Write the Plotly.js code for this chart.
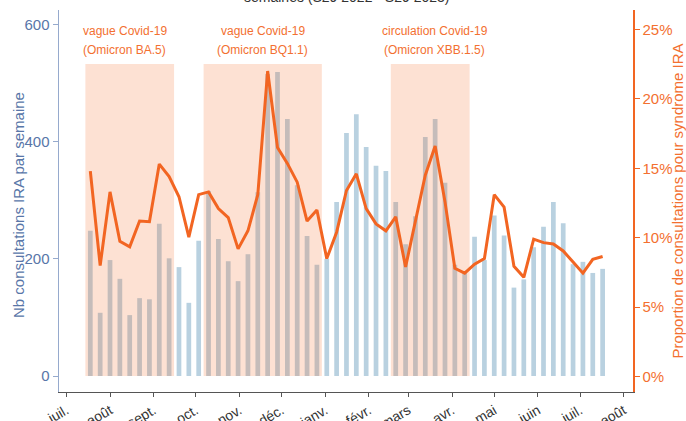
<!DOCTYPE html>
<html>
<head>
<meta charset="utf-8">
<script src="https://cdn.plot.ly/plotly-3.0.1.min.js"></script>
<style>html,body{margin:0;padding:0;background:#fff;}#chart{width:686px;height:421px;}</style>
</head>
<body>
<div id="chart"></div>
<script>
// Weekly dates (Mondays), S29 2022 -> S29 2023
const weeks = [
  '2022-07-18','2022-07-25','2022-08-01','2022-08-08','2022-08-15','2022-08-22','2022-08-29',
  '2022-09-05','2022-09-12','2022-09-19','2022-09-26','2022-10-03','2022-10-10','2022-10-17',
  '2022-10-24','2022-10-31','2022-11-07','2022-11-14','2022-11-21','2022-11-28','2022-12-05',
  '2022-12-12','2022-12-19','2022-12-26','2023-01-02','2023-01-09','2023-01-16','2023-01-23',
  '2023-01-30','2023-02-06','2023-02-13','2023-02-20','2023-02-27','2023-03-06','2023-03-13',
  '2023-03-20','2023-03-27','2023-04-03','2023-04-10','2023-04-17','2023-04-24','2023-05-01',
  '2023-05-08','2023-05-15','2023-05-22','2023-05-29','2023-06-05','2023-06-12','2023-06-19',
  '2023-06-26','2023-07-03','2023-07-10','2023-07-17'
];
// Nb consultations IRA par semaine
const consultations = [
  248,108,198,166,104,133,131,260,201,186,125,231,316,234,196,162,208,314,516,519,439,
  326,239,190,200,297,415,447,391,359,350,297,225,273,408,439,330,190,176,238,198,274,
  240,151,165,220,255,297,261,191,195,176,183
];
// Proportion de consultations pour syndrome IRA (%)
const proportion = [
  14.8,8.0,13.3,9.75,9.35,11.2,11.15,15.3,14.4,12.95,10.05,13.1,13.3,12.1,11.45,9.2,10.5,
  13.1,22.0,16.5,15.35,14.0,11.2,12.0,8.5,10.4,13.4,14.6,12.1,11.0,10.5,11.5,7.9,11.15,
  14.5,16.6,12.6,7.8,7.45,8.1,8.5,13.1,12.2,7.95,7.15,9.9,9.65,9.55,9.05,8.25,7.45,8.45,8.65
];
// Month ticks
const monthTicks = ['2022-07-01','2022-08-01','2022-09-01','2022-10-01','2022-11-01','2022-12-01',
  '2023-01-01','2023-02-01','2023-03-01','2023-04-01','2023-05-01','2023-06-01','2023-07-01','2023-08-01'];
const monthLabels = ['juil.','août','sept.','oct.','nov.','déc.','janv.','févr.','mars','avr.','mai','juin','juil.','août'];
// Covid-19 periods (first and last week)
const periodFirstWeek = ['2022-07-18','2022-10-10','2023-02-20'];
const periodLastWeek  = ['2022-09-12','2022-12-26','2023-04-10'];
const periodLine1 = ['vague Covid-19','vague Covid-19','circulation Covid-19'];
const periodLine2 = ['(Omicron BA.5)','(Omicron BQ1.1)','(Omicron XBB.1.5)'];
const periodLabelDate = ['2022-08-11 12:00','2022-11-17 16:00','2023-03-19 18:00'];

const DAY = 86400000;
function shift(d, days){ return new Date(new Date(d+'T00:00:00Z').getTime()+days*DAY).toISOString().slice(0,19).replace('T',' '); }

const ORANGE = 'rgb(242,101,34)';
const ORANGE_TXT = 'rgb(243,112,48)';
const BLUE_TXT = 'rgb(88,118,168)';
const FONT = 'Liberation Sans, Arial, sans-serif';
const W = 686, H = 421, L = 59, R = 53, T = 10, B = 29, PH = H - T - B, PW = W - L - R;
function py(pix){ return (H - B - pix) / PH; } // pixel row -> paper y
function px(pix){ return (pix - L) / PW; }     // pixel col -> paper x

const shapes = periodFirstWeek.map((s,i)=>({
  type:'rect', xref:'x', yref:'y', x0:shift(s,-3.5), x1:shift(periodLastWeek[i],3.5),
  y0:0, y1:533, fillcolor:'rgb(245,105,35)', opacity:0.2, line:{width:0}, layer:'above'
}));

const annotations = [];
periodLine1.forEach((t,i)=>{
  annotations.push({xref:'x', yref:'paper', x:periodLabelDate[i], y:py(31), text:t, showarrow:false,
    xanchor:'center', yanchor:'middle', font:{family:FONT, size:12, color:ORANGE_TXT}});
  annotations.push({xref:'x', yref:'paper', x:periodLabelDate[i], y:py(50), text:periodLine2[i], showarrow:false,
    xanchor:'center', yanchor:'middle', font:{family:FONT, size:12, color:ORANGE_TXT}});
});
annotations.push({xref:'paper', yref:'paper', x:0.5, y:py(7), text:'semaines (S29 2022 - S29 2023)',
  showarrow:false, xanchor:'center', yanchor:'bottom', font:{family:FONT, size:14, color:'#333'}});
// left axis title
annotations.push({xref:'paper', yref:'paper', x:px(18), y:py(205), text:'Nb consultations IRA par semaine',
  textangle:-90, showarrow:false, xanchor:'center', yanchor:'middle', font:{family:FONT, size:15, color:BLUE_TXT}});

const traces = [
  {type:'bar', x:weeks, y:consultations, marker:{color:'rgb(185,209,224)'}, width:3.35*DAY, yaxis:'y', hoverinfo:'x+y'},
  {type:'scatter', mode:'lines', x:weeks, y:proportion, yaxis:'y2', line:{color:ORANGE, width:3}}
];

const layout = {
  width:W, height:H,
  margin:{l:L, r:R, t:T, b:B, pad:0},
  paper_bgcolor:'#fff', plot_bgcolor:'#fff',
  showlegend:false,
  font:{family:FONT},
  xaxis:{type:'date', range:['2022-06-25 18:00','2023-08-07 14:00'], tickmode:'array', tickvals:monthTicks, ticktext:monthLabels,
    tickangle:-30, ticks:'outside', ticklen:4, tickcolor:'#555', showline:true, linecolor:'#555', linewidth:1,
    showgrid:false, zeroline:false, automargin:false, tickfont:{family:FONT, size:14, color:'#333'}},
  yaxis:{range:[-27.3,625.1], tick0:0, dtick:200, showline:true, linecolor:'rgb(150,170,205)', linewidth:1.5,
    ticks:'outside', ticklen:5, tickcolor:'rgb(150,170,205)', showgrid:false, zeroline:false, automargin:false,
    tickfont:{family:FONT, size:15, color:BLUE_TXT}},
  yaxis2:{overlaying:'y', side:'right', range:[-1.10,26.39], tick0:0, dtick:5, ticksuffix:'%', showline:true,
    linecolor:ORANGE, linewidth:1.5, ticks:'outside', ticklen:5, tickcolor:ORANGE, showgrid:false, zeroline:false,
    automargin:false, tickfont:{family:FONT, size:15, color:ORANGE_TXT},
    title:{text:'Proportion de consultations pour syndrome IRA', font:{family:FONT, size:15, color:ORANGE_TXT}, standoff:4}},
  shapes:shapes,
  annotations:annotations
};

Plotly.newPlot('chart', traces, layout, {displayModeBar:false, staticPlot:true});
</script>
</body>
</html>
